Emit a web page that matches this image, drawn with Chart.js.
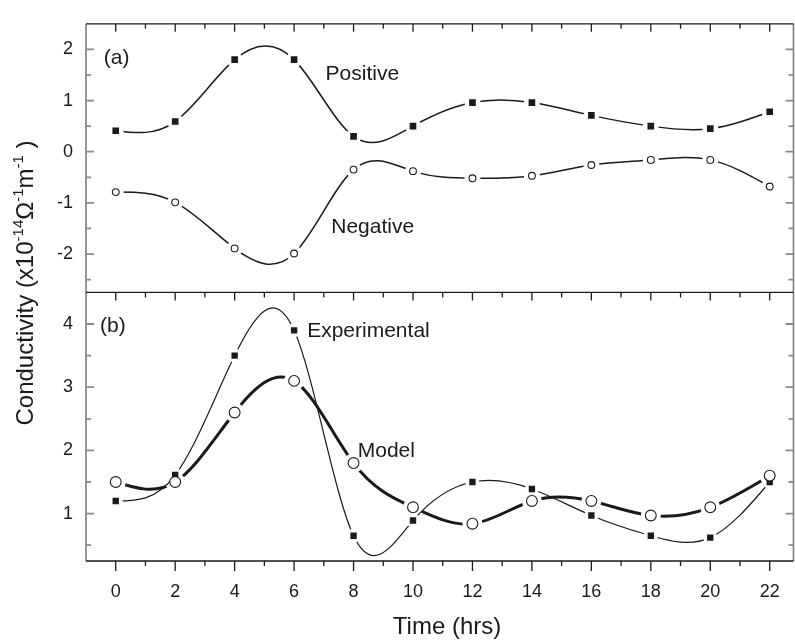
<!DOCTYPE html>
<html>
<head>
<meta charset="utf-8">
<script src="https://cdn.jsdelivr.net/npm/chart.js@4/dist/chart.umd.min.js"></script>
<style>
  html, body { margin: 0; padding: 0; background: #fff; overflow: hidden; }
  #wrap { width: 795px; height: 642px; overflow: hidden; }
</style>
</head>
<body>
<div id="wrap"><canvas id="cond" width="800" height="642"></canvas></div>
<script>
// sampling times and measured / modelled conductivity
const hours = [0, 2, 4, 6, 8, 10, 12, 14, 16, 18, 20, 22];
const positive = [0.41, 0.59, 1.80, 1.80, 0.30, 0.50, 0.96, 0.96, 0.71, 0.50, 0.45, 0.78];
const negative = [-0.79, -0.99, -1.89, -1.99, -0.35, -0.38, -0.52, -0.47, -0.26, -0.16, -0.16, -0.68];
const experimental = [1.20, 1.61, 3.50, 3.90, 0.65, 0.89, 1.50, 1.39, 0.97, 0.65, 0.62, 1.50];
const model = [1.50, 1.50, 2.60, 3.10, 1.80, 1.10, 0.84, 1.20, 1.20, 0.97, 1.10, 1.60];

// tick labels
const xTicks = [0, 2, 4, 6, 8, 10, 12, 14, 16, 18, 20, 22];
const yTicksA = [-2, -1, 0, 1, 2];
const yTicksB = [1, 2, 3, 4];

const FONT = '"Liberation Sans", Arial, sans-serif';
const INK = '#1a1a1a';

function toPoints(values) {
  return hours.map((h, i) => ({ x: h, y: values[i] }));
}

// smooth curve only, the symbols are a separate dataset
function curve(values, axis, width, gap) {
  return {
    data: toPoints(values), yAxisID: axis, showLine: true,
    borderColor: INK, borderWidth: width, tension: 0.4,
    pointRadius: 0, fill: false, gap: gap, order: 10
  };
}

function symbols(values, axis, style, radius, filled, order) {
  return {
    data: toPoints(values), yAxisID: axis, showLine: false,
    pointStyle: style, pointRadius: radius,
    pointBackgroundColor: filled ? INK : '#fff',
    pointBorderColor: INK, pointBorderWidth: filled ? 0 : 1.1,
    order: order
  };
}

// halves between major ticks, kept strictly inside the axis range
function minorTicks(majors, min, max) {
  const step = majors[1] - majors[0];
  const out = majors.map(v => v - step / 2).concat([majors[majors.length - 1] + step / 2]);
  return out.filter(v => v > min && v < max);
}

// slopes of a natural cubic spline through (xs, ys)
function splineSlopes(xs, ys) {
  const n = xs.length - 1;
  const h = [];
  for (let i = 0; i < n; i++) h.push(xs[i + 1] - xs[i]);
  const M = new Array(n + 1).fill(0);
  if (n > 1) {
    const c = [], d = [];
    for (let i = 1; i < n; i++) {
      const a = h[i - 1], b = 2 * (h[i - 1] + h[i]), cc = h[i];
      const r = 6 * ((ys[i + 1] - ys[i]) / h[i] - (ys[i] - ys[i - 1]) / h[i - 1]);
      if (i === 1) { c.push(cc / b); d.push(r / b); }
      else {
        const den = b - a * c[i - 2];
        c.push(cc / den);
        d.push((r - a * d[i - 2]) / den);
      }
    }
    for (let i = n - 1; i >= 1; i--) {
      M[i] = d[i - 1] - c[i - 1] * (i < n - 1 ? M[i + 1] : 0);
    }
  }
  const m = [];
  for (let i = 0; i < n; i++) {
    m.push((ys[i + 1] - ys[i]) / h[i] - h[i] * (2 * M[i] + M[i + 1]) / 6);
  }
  m.push((ys[n] - ys[n - 1]) / h[n - 1] + h[n - 1] * (M[n - 1] + 2 * M[n]) / 6);
  return m;
}

// curves: spline handles from the data, and a small gap around each symbol
const splineCurves = {
  id: 'splineCurves',
  beforeDatasetDraw(chart, args) {
    const ds = chart.data.datasets[args.index];
    if (!ds.gap) return;
    const meta = args.meta;
    const xs = meta.xScale, ys = meta.yScale;
    const px = ds.data.map(d => d.x), py = ds.data.map(d => d.y);
    const m = splineSlopes(px, py);
    const last = px.length - 1;
    meta.data.forEach((p, i) => {
      const back = i > 0 ? (px[i] - px[i - 1]) / 3 : 0;
      const ahead = i < last ? (px[i + 1] - px[i]) / 3 : 0;
      p.cp1x = xs.getPixelForValue(px[i] - back);
      p.cp1y = ys.getPixelForValue(py[i] - m[i] * back);
      p.cp2x = xs.getPixelForValue(px[i] + ahead);
      p.cp2y = ys.getPixelForValue(py[i] + m[i] * ahead);
    });
    meta.dataset._pointsUpdated = true;
    meta.dataset._path = undefined;

    const ctx = chart.ctx;
    ctx.save();
    ctx.beginPath();
    ctx.rect(0, 0, chart.width, chart.height);
    meta.data.forEach(p => {
      ctx.moveTo(p.x + ds.gap, p.y);
      ctx.arc(p.x, p.y, ds.gap, 0, Math.PI * 2);
    });
    ctx.clip('evenodd');
  },
  afterDatasetDraw(chart, args) {
    if (chart.data.datasets[args.index].gap) chart.ctx.restore();
  }
};

// panel frames with inward ticks
const frame = {
  id: 'frame',
  afterDatasetsDraw(chart) {
    const ctx = chart.ctx;
    const xs = chart.scales.x;
    const xMinor = minorTicks(xTicks, xs.min, xs.max);
    const panels = [[chart.scales.yA, yTicksA], [chart.scales.yB, yTicksB]];
    ctx.save();
    ctx.lineCap = 'butt';

    panels.forEach(([ys, majors]) => {
      const yMinor = minorTicks(majors, ys.min, ys.max);
      // left and right axes (grey)
      ctx.strokeStyle = '#8a8a8a';
      ctx.lineWidth = 1.8;
      ctx.beginPath();
      ctx.moveTo(xs.left, ys.top); ctx.lineTo(xs.left, ys.bottom);
      ctx.moveTo(xs.right, ys.top); ctx.lineTo(xs.right, ys.bottom);
      majors.forEach(v => {
        const y = ys.getPixelForValue(v);
        ctx.moveTo(xs.left, y); ctx.lineTo(xs.left + 8, y);
        ctx.moveTo(xs.right, y); ctx.lineTo(xs.right - 8, y);
      });
      yMinor.forEach(v => {
        const y = ys.getPixelForValue(v);
        ctx.moveTo(xs.left, y); ctx.lineTo(xs.left + 5, y);
        ctx.moveTo(xs.right, y); ctx.lineTo(xs.right - 5, y);
      });
      ctx.stroke();

      // top edge with ticks pointing down into the panel
      ctx.strokeStyle = INK;
      ctx.lineWidth = 1.3;
      ctx.beginPath();
      ctx.moveTo(xs.left, ys.top); ctx.lineTo(xs.right, ys.top);
      xTicks.forEach(v => {
        const x = xs.getPixelForValue(v);
        ctx.moveTo(x, ys.top); ctx.lineTo(x, ys.top + 8);
      });
      xMinor.forEach(v => {
        const x = xs.getPixelForValue(v);
        ctx.moveTo(x, ys.top); ctx.lineTo(x, ys.top + 5);
      });
      ctx.stroke();
    });

    // bottom axis, ticks pointing outward
    const yb = chart.scales.yB.bottom;
    ctx.beginPath();
    ctx.moveTo(xs.left, yb); ctx.lineTo(xs.right, yb);
    xTicks.forEach(v => {
      const x = xs.getPixelForValue(v);
      ctx.moveTo(x, yb); ctx.lineTo(x, yb + 10);
    });
    xMinor.forEach(v => {
      const x = xs.getPixelForValue(v);
      ctx.moveTo(x, yb); ctx.lineTo(x, yb + 5);
    });
    ctx.stroke();
    ctx.restore();
  }
};

// panel letters, curve names and axis titles
const labels = {
  id: 'labels',
  afterDraw(chart) {
    const ctx = chart.ctx;
    const xs = chart.scales.x, ya = chart.scales.yA, yb = chart.scales.yB;
    ctx.save();
    ctx.fillStyle = INK;
    ctx.textBaseline = 'middle';
    ctx.textAlign = 'left';
    ctx.font = '21px ' + FONT;
    const put = (text, x, ys, y) => ctx.fillText(text, xs.getPixelForValue(x), ys.getPixelForValue(y));
    put('(a)', -0.4, ya, 1.82);
    put('Positive', 7.06, ya, 1.51);
    put('Negative', 7.25, ya, -1.47);
    put('(b)', -0.53, yb, 3.97);
    put('Experimental', 6.44, yb, 3.88);
    put('Model', 8.14, yb, 1.99);

    // x title
    ctx.font = '24px ' + FONT;
    ctx.textAlign = 'center';
    ctx.fillText('Time (hrs)', 447, 627);

    // y title with superscripts, written bottom to top
    const parts = [
      ['Conductivity (x10', false], ['-14', true], ['\u03A9', false],
      ['-1', true], ['m', false], ['-1', true], [' )', false]
    ];
    const big = '24px ' + FONT, small = '15px ' + FONT;
    let total = 0;
    parts.forEach(([t, sup]) => { ctx.font = sup ? small : big; total += ctx.measureText(t).width; });
    ctx.translate(33, 283);
    ctx.rotate(-Math.PI / 2);
    ctx.textAlign = 'left';
    ctx.textBaseline = 'alphabetic';
    let pos = -total / 2;
    parts.forEach(([t, sup]) => {
      ctx.font = sup ? small : big;
      ctx.fillText(t, pos, sup ? -10 : 0);
      pos += ctx.measureText(t).width;
    });
    ctx.restore();
  }
};

const tickFont = { family: FONT, size: 18 };

function yAxis(min, max, majors) {
  return {
    type: 'linear', position: 'left', stack: 'panels', stackWeight: 1,
    min: min, max: max,
    grid: { display: false, drawTicks: false }, border: { display: false },
    ticks: { font: tickFont, color: INK, padding: 13 },
    afterBuildTicks: s => { s.ticks = majors.map(v => ({ value: v })); },
    afterFit: s => { s.width = 86; }
  };
}

new Chart(document.getElementById('cond'), {
  type: 'line',
  data: {
    datasets: [
      curve(positive, 'yA', 1.5, 8),
      symbols(positive, 'yA', 'rect', 4.7, true, 2),
      curve(negative, 'yA', 1.5, 8),
      symbols(negative, 'yA', 'circle', 3.4, false, 2),
      curve(experimental, 'yB', 1.2, 7),
      symbols(experimental, 'yB', 'rect', 4.5, true, 2),
      curve(model, 'yB', 3, 10),
      symbols(model, 'yB', 'circle', 5.4, false, 1)
    ]
  },
  options: {
    responsive: false,
    animation: false,
    events: [],
    layout: { padding: { top: 7, right: 3, left: 0, bottom: 0 } },
    plugins: { legend: { display: false }, tooltip: { enabled: false } },
    scales: {
      x: {
        type: 'linear', position: 'bottom', min: -1, max: 22.8,
        grid: { display: false, drawTicks: false }, border: { display: false },
        ticks: { font: tickFont, color: INK, padding: 20, maxRotation: 0 },
        afterBuildTicks: s => { s.ticks = xTicks.map(v => ({ value: v })); },
        afterFit: s => { s.height = 81; }
      },
      yB: yAxis(0.25, 4.5, yTicksB),
      yA: yAxis(-2.75, 2.5, yTicksA)
    }
  },
  plugins: [splineCurves, frame, labels]
});
</script>
</body>
</html>
